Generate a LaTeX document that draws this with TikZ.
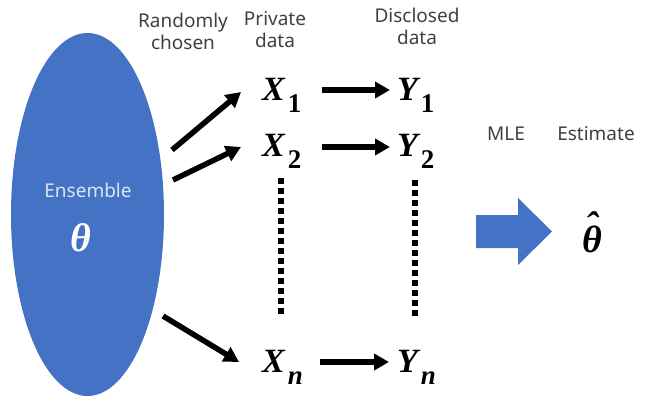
\documentclass[tikz,border=0pt]{standalone}
\usepackage{fontspec}
\setmainfont{Liberation Serif}
\newfontfamily\lblsans{Noto Sans}
\newfontfamily\tnr{Liberation Serif}
\usetikzlibrary{arrows.meta,shapes.geometric}
\definecolor{ensblue}{HTML}{4472C4}
\definecolor{lbl}{HTML}{404040}
\definecolor{enstext}{HTML}{DCE4F2}
\newcommand\subup[1]{\kern3pt\raisebox{-12pt}{\fontsize{27}{27}\selectfont\upshape #1}}
\newcommand\subit[1]{\kern3pt\raisebox{-12pt}{\fontsize{27}{27}\selectfont #1}}
\begin{document}
\begin{tikzpicture}[x=1pt,y=-1pt,
  lab/.style={font=\lblsans\fontsize{19}{22}\selectfont, text=lbl, align=center, inner sep=0pt},
  var/.style={font=\tnr\bfseries\itshape\fontsize{34}{34}\selectfont, anchor=base west, inner sep=0pt},
  arr/.style={line width=5.5pt, -{Triangle[length=15pt,width=16pt]}},
  dotline/.style={line width=6pt, dash pattern=on 6pt off 4pt}]
\useasboundingbox (0,0) rectangle (659,399);
% ensemble
\node[ellipse, fill=ensblue, minimum width=153pt, minimum height=363pt, inner sep=0pt] (ens) at (87.5,214.5) {};
\node[lab, text=enstext] (enslab) at (88,190) {Ensemble};
\node[font=\tnr\bfseries\itshape\fontsize{40}{40}\selectfont, text=white, inner sep=0pt] (theta) at (81,238) {θ};
% headers
\node[lab] (hrand) at (183,31) {Randomly\\chosen};
\node[lab] (hpriv) at (275,30) {Private\\data};
\node[lab] (hdisc) at (417,26) {Disclosed\\data};
\node[lab] (hmle) at (506,134) {MLE};
\node[lab] (hest) at (596,134) {Estimate};
% variables
\node[var] (x1) at (262,100) {X\subup{1}};
\node[var] (x2) at (262,156) {X\subup{2}};
\node[var] (xn) at (262,372) {X\subit{n}};
\node[var] (y1) at (397,100) {Y\subup{1}};
\node[var] (y2) at (397,156) {Y\subup{2}};
\node[var] (yn) at (397,372) {Y\subit{n}};
% arrows from ensemble
\coordinate (s1) at (172,150); \coordinate (t1) at (241,92);
\coordinate (s2) at (173,180); \coordinate (t2) at (241,147);
\coordinate (s3) at (163,316); \coordinate (t3) at (239,362);
\draw[arr] (s1) -- (t1);
\draw[arr] (s2) -- (t2);
\draw[arr] (s3) -- (t3);
% X -> Y
\coordinate (a1s) at (322,90); \coordinate (a1e) at (390,90);
\coordinate (a2s) at (322,147); \coordinate (a2e) at (390,147);
\coordinate (ans) at (320,362); \coordinate (ane) at (389,362);
\draw[arr] (a1s) -- (a1e);
\draw[arr] (a2s) -- (a2e);
\draw[arr] (ans) -- (ane);
% dotted lines
\coordinate (d1s) at (281,178); \coordinate (d1e) at (281,316);
\coordinate (d2s) at (415,180); \coordinate (d2e) at (415,318);
\draw[dotline] (d1s) -- (d1e);
\draw[dotline] (d2s) -- (d2e);
% block arrow
\fill[ensblue] (476,215) -- (518,215) -- (518,198) -- (552,231.5) -- (518,265) -- (518,248) -- (476,248) -- cycle;
% estimate
\node[font=\tnr\bfseries\itshape\fontsize{38}{38}\selectfont, anchor=base, inner sep=0pt] (thetahat) at (592,252) {θ\llap{\raisebox{14pt}{ˆ\kern4pt}}};
\end{tikzpicture}
\end{document}
